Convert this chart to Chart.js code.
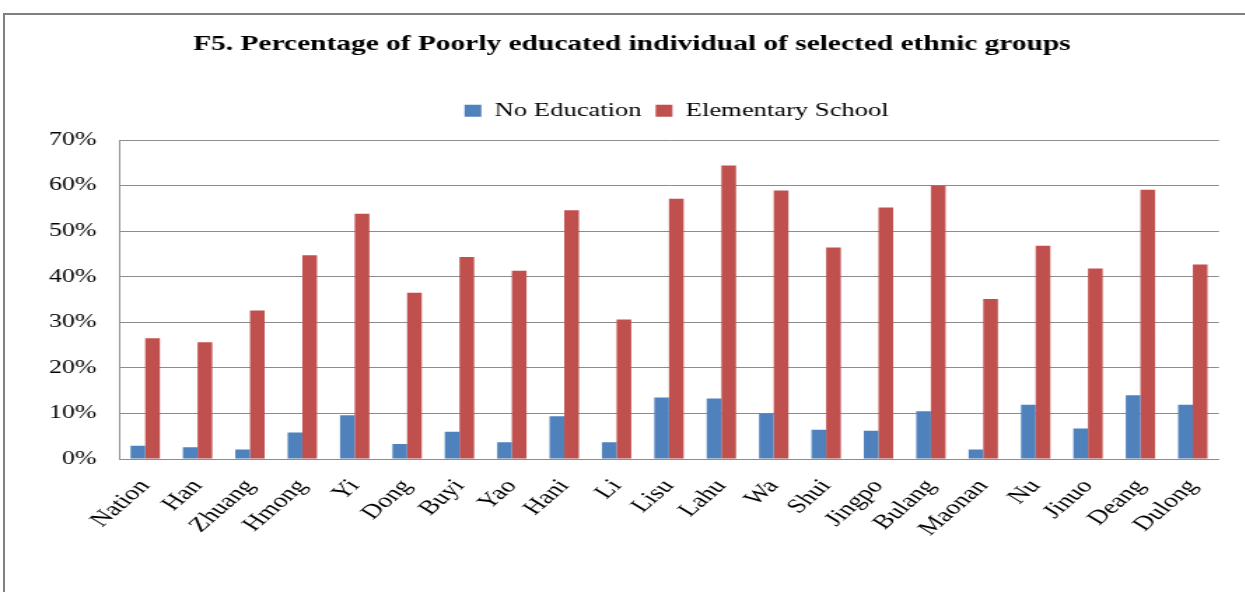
<!DOCTYPE html>
<html>
<head>
<meta charset="utf-8">
<script src="https://cdn.jsdelivr.net/npm/chart.js@4"></script>
<style>
  html, body { margin: 0; padding: 0; background: #fff; width: 1245px; height: 592px; overflow: hidden; }
  #frame { position: absolute; left: 3px; top: 13px; width: 1300px; height: 700px; border: 2px solid #808080; box-sizing: border-box; }
  /* the chart is laid out narrow and widened horizontally */
  #wrap { position: absolute; left: 0; top: 0; width: 889.3px; height: 592px; transform: scaleX(1.4); transform-origin: 0 0; }
</style>
</head>
<body>
<div id="frame"></div>
<div id="wrap"><canvas id="chart"></canvas></div>
<script>
const categories = ['Nation', 'Han', 'Zhuang', 'Hmong', 'Yi', 'Dong', 'Buyi', 'Yao', 'Hani', 'Li', 'Lisu',
  'Lahu', 'Wa', 'Shui', 'Jingpo', 'Bulang', 'Maonan', 'Nu', 'Jinuo', 'Deang', 'Dulong'];
const noEducation = [2.9, 2.6, 2.1, 5.8, 9.6, 3.3, 6.0, 3.7, 9.4, 3.7, 13.5,
  13.3, 10.0, 6.4, 6.2, 10.5, 2.1, 11.9, 6.7, 14.0, 11.9];
const elementarySchool = [26.5, 25.6, 32.6, 44.7, 53.8, 36.5, 44.3, 41.3, 54.6, 30.6, 57.1,
  64.4, 58.9, 46.4, 55.2, 60.0, 35.1, 46.8, 41.8, 59.1, 42.7];
const seriesNames = ['No Education', 'Elementary School'];
const yTickValues = [0, 10, 20, 30, 40, 50, 60, 70];
const titleText = 'F5. Percentage of Poorly educated individual of selected ethnic groups';

const SERIF = "'Liberation Serif', 'Times New Roman', serif";
const GRID = '#8c8c8c';

// extra room under the legend and horizontal placement of the title and legend
const layoutTweaks = {
  id: 'layoutTweaks',
  beforeInit(chart) {
    const legend = chart.legend;
    const fit = legend.fit;
    legend.fit = function () { fit.call(this); this.height += 9.8; };
  },
  afterLayout(chart) {
    const t = chart.titleBlock, l = chart.legend;
    if (t) { t.left += 16; t.right += 16; }
    if (l) { l.left += 48; l.right += 48; }
  }
};

new Chart(document.getElementById('chart'), {
  type: 'bar',
  data: {
    labels: categories,
    datasets: [
      { label: seriesNames[0], data: noEducation, backgroundColor: '#4F81BD' },
      { label: seriesNames[1], data: elementarySchool, backgroundColor: '#C0504D' }
    ]
  },
  plugins: [layoutTweaks],
  options: {
    responsive: true,
    maintainAspectRatio: false,
    animation: false,
    datasets: { bar: { categoryPercentage: 0.56, barPercentage: 1.0 } },
    layout: { padding: { left: 0, right: 18.6, top: 0, bottom: 0 } },
    plugins: {
      tooltip: { enabled: false },
      title: {
        display: true,
        text: titleText,
        color: '#000',
        font: { family: SERIF, size: 21, weight: 'bold' },
        padding: { top: 32, bottom: 34 }
      },
      legend: {
        display: true,
        position: 'top',
        labels: {
          color: '#000',
          font: { family: SERIF, size: 19 },
          boxWidth: 12,
          boxHeight: 12,
          padding: 10
        }
      }
    },
    scales: {
      x: {
        grid: { display: false, drawTicks: false },
        border: { display: true, color: GRID, width: 1 },
        ticks: {
          color: '#000',
          font: { family: SERIF, size: 20 },
          maxRotation: 50,
          minRotation: 50,
          padding: 16,
          autoSkip: false
        },
        afterFit(scale) { scale.height = 133; }
      },
      y: {
        min: 0,
        max: 70,
        afterBuildTicks(scale) { scale.ticks = yTickValues.map(v => ({ value: v })); },
        grid: { color: GRID, lineWidth: 1, drawTicks: false },
        border: { display: true, color: GRID, width: 1 },
        ticks: {
          color: '#000',
          font: { family: SERIF, size: 18.5 },
          padding: 16,
          callback: v => v + '%'
        },
        afterFit(scale) { scale.width = 85; }
      }
    }
  }
});
</script>
</body>
</html>
